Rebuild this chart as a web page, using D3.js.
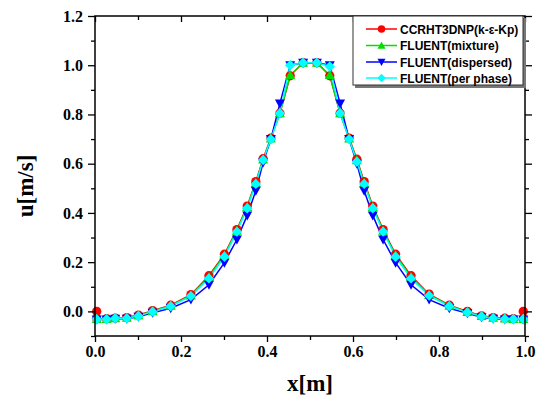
<!DOCTYPE html>
<html><head><meta charset="utf-8">
<script src="https://cdn.jsdelivr.net/npm/d3@7"></script>
<style>body{margin:0;background:#fff}svg{display:block}</style>
</head><body>
<svg id="c" width="536" height="409"></svg>
<script>
const xPos = [0.004,0.027,0.047,0.074,0.101,0.134,0.176,0.223,0.265,0.301,0.330,0.354,0.374,0.391,0.409,0.430,0.454,0.484,
              0.516,0.546,0.570,0.591,0.609,0.626,0.646,0.670,0.699,0.735,0.777,0.824,0.866,0.899,0.926,0.953,0.973,0.996];
const redX = [0.004].concat(xPos, [0.996]);
const redY = [0.0,
  -0.030,-0.030,-0.027,-0.025,-0.015,0.003,0.025,0.068,0.145,0.232,0.332,0.428,0.527,0.620,0.704,0.805,0.957,1.010,
  1.010,0.957,0.805,0.704,0.618,0.527,0.428,0.332,0.232,0.145,0.070,0.025,0.000,-0.018,-0.025,-0.028,-0.030,-0.030,
  0.0];
const greenY = [-0.031,-0.031,-0.028,-0.026,-0.017,0.001,0.023,0.065,0.140,0.228,0.328,0.424,0.522,0.617,0.702,0.805,0.960,1.010,
  1.010,0.960,0.805,0.702,0.614,0.522,0.424,0.328,0.228,0.140,0.067,0.023,-0.002,-0.019,-0.026,-0.029,-0.031,-0.031];
const blueY = [-0.033,-0.033,-0.030,-0.030,-0.022,-0.006,0.013,0.048,0.108,0.198,0.292,0.390,0.490,0.605,0.700,0.845,1.000,1.010,
  1.010,1.000,0.845,0.700,0.600,0.490,0.390,0.292,0.198,0.108,0.048,0.013,-0.008,-0.024,-0.030,-0.033,-0.033,-0.033];
const cyanY = [-0.032,-0.032,-0.028,-0.028,-0.019,-0.001,0.021,0.062,0.134,0.222,0.324,0.419,0.518,0.615,0.699,0.805,1.000,1.010,
  1.010,0.995,0.805,0.700,0.608,0.518,0.419,0.324,0.222,0.134,0.064,0.021,-0.004,-0.021,-0.028,-0.031,-0.031,-0.031];
const seriesNames = ["CCRHT3DNP(k-\u03b5-Kp)","FLUENT(mixture)","FLUENT(dispersed)","FLUENT(per phase)"];
const seriesColors = ["#ff0000","#00e000","#0000ff","#00ffff"];
const xTicks = [0.0,0.2,0.4,0.6,0.8,1.0];
const yTicks = [0.0,0.2,0.4,0.6,0.8,1.0,1.2];
const xMinor = [0.1,0.3,0.5,0.7,0.9];
const yMinor = [-0.1,0.1,0.3,0.5,0.7,0.9,1.1];

const series = [
  {x: redX, y: redY, shape: "circle"},
  {x: xPos, y: greenY, shape: "up"},
  {x: xPos, y: blueY, shape: "down"},
  {x: xPos, y: cyanY, shape: "diamond"}
];

const svg = d3.select("#c");
const L = 95, R = 525, T = 16, B = 336;
const x = d3.scaleLinear().domain([0,1]).range([L,R]);
const y = d3.scaleLinear().domain([-0.1,1.2]).range([B,T]);

function markerPath(shape){
  if (shape==="circle") return d3.symbol(d3.symbolCircle, 68)();
  if (shape==="up") return "M0,-5L5,4L-5,4Z";
  if (shape==="down") return "M0,5L5,-4L-5,-4Z";
  return "M0,-5.2L5.2,0L0,5.2L-5.2,0Z";
}

series.forEach((s,i)=>{
  const pts = s.x.map((v,k)=>[v,s.y[k]]);
  svg.append("path").datum(pts)
    .attr("fill","none").attr("stroke",seriesColors[i]).attr("stroke-width",1.5)
    .attr("d", d3.line().x(d=>x(d[0])).y(d=>y(d[1])));
});
series.forEach((s,i)=>{
  const pts = s.x.map((v,k)=>[v,s.y[k]]);
  svg.append("g").selectAll("path").data(pts).join("path")
    .attr("transform", d=>`translate(${x(d[0])},${y(d[1])})`)
    .attr("d", markerPath(s.shape))
    .attr("fill", seriesColors[i]);
});

const fontTick = "'Liberation Serif','Times New Roman',serif";
svg.append("g").attr("transform",`translate(0,${B})`)
  .call(d3.axisBottom(x).tickValues(xTicks).tickFormat(d3.format(".1f")).tickSizeInner(6).tickSizeOuter(0).tickPadding(4));
svg.append("g").attr("transform",`translate(0,${B})`)
  .call(d3.axisBottom(x).tickValues(xMinor).tickFormat("").tickSizeInner(4).tickSizeOuter(0));
svg.append("g").attr("transform",`translate(${L},0)`)
  .call(d3.axisLeft(y).tickValues(yTicks).tickFormat(d3.format(".1f")).tickSizeInner(7).tickSizeOuter(0).tickPadding(5));
svg.append("g").attr("transform",`translate(${L},0)`)
  .call(d3.axisLeft(y).tickValues(yMinor).tickFormat("").tickSizeInner(4).tickSizeOuter(0));
svg.append("g").attr("transform",`translate(0,${T})`)
  .call(d3.axisBottom(x).tickValues(xTicks).tickFormat("").tickSizeInner(6).tickSizeOuter(0));
svg.append("g").attr("transform",`translate(0,${T})`)
  .call(d3.axisBottom(x).tickValues(xMinor).tickFormat("").tickSizeInner(4).tickSizeOuter(0));
svg.append("g").attr("transform",`translate(${R},0)`)
  .call(d3.axisLeft(y).tickValues(yTicks).tickFormat("").tickSizeInner(-7).tickSizeOuter(0));
svg.append("g").attr("transform",`translate(${R},0)`)
  .call(d3.axisLeft(y).tickValues(yMinor).tickFormat("").tickSizeInner(-4).tickSizeOuter(0));

svg.selectAll(".domain").remove();
svg.selectAll(".tick line").attr("stroke","#000").attr("stroke-width",1.3);
svg.selectAll(".tick text").attr("font-family",fontTick).attr("font-weight","bold").attr("font-size",16).attr("fill","#000");
svg.append("rect").attr("x",L).attr("y",T).attr("width",R-L).attr("height",B-T)
  .attr("fill","none").attr("stroke","#000").attr("stroke-width",1.5);

const lg = svg.append("g");
lg.append("rect").attr("x",355).attr("y",18).attr("width",171).attr("height",70).attr("fill","#777");
lg.append("rect").attr("x",353).attr("y",16).attr("width",170).attr("height",69)
  .attr("fill","#fff").attr("stroke","#333").attr("stroke-width",1);
const rowsY = [29,45.5,62,78];
series.forEach((s,i)=>{
  const yy = rowsY[i];
  lg.append("line").attr("x1",366).attr("x2",397).attr("y1",yy).attr("y2",yy)
    .attr("stroke",seriesColors[i]).attr("stroke-width",1.5);
  lg.append("path").attr("transform",`translate(381.5,${yy}) scale(0.8)`).attr("d",markerPath(s.shape)).attr("fill",seriesColors[i]);
  lg.append("text").attr("x",400).attr("y",yy+4.5).text(seriesNames[i])
    .attr("font-family","'Liberation Sans',Arial,sans-serif").attr("font-weight","bold").attr("font-size",12);
});

svg.append("text").attr("x",310).attr("y",391).attr("text-anchor","middle")
  .attr("font-family",fontTick).attr("font-weight","bold").attr("font-size",23).text("x[m]");
svg.append("text").attr("transform","translate(33,186) rotate(-90)").attr("text-anchor","middle")
  .attr("font-family",fontTick).attr("font-weight","bold").attr("font-size",23).text("u[m/s]");
</script>
</body></html>
